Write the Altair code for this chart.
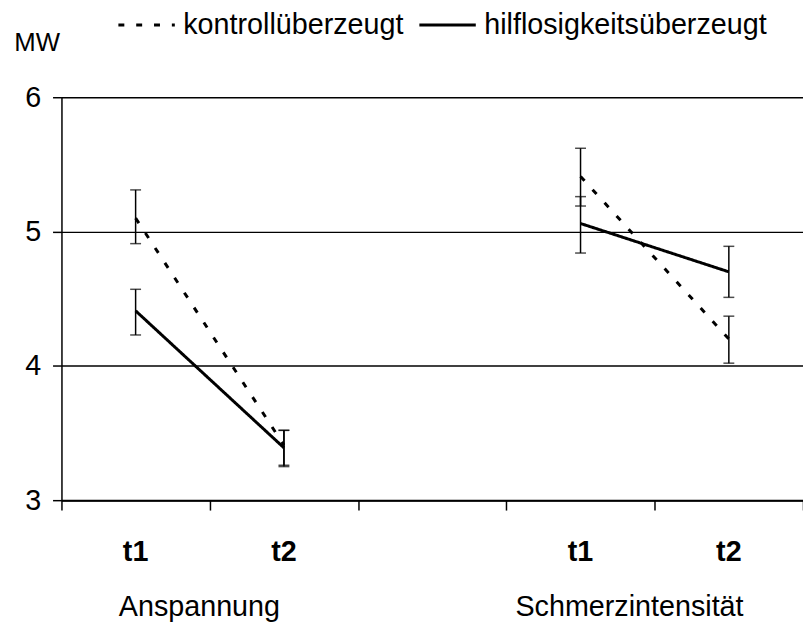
import altair as alt
import pandas as pd

# ---- data ----
groups = ["kontrollüberzeugt", "hilflosigkeitsüberzeugt"]
measures = ["Anspannung", "Anspannung", "Schmerzintensität", "Schmerzintensität"]
times = ["t1", "t2", "t1", "t2"]
slots = [0.5, 1.5, 3.5, 4.5]          # category slot centres on the x scale

kontroll_mean = [5.10, 3.41, 5.41, 4.20]
kontroll_lo = [4.91, 3.26, 5.19, 4.02]
kontroll_hi = [5.31, 3.52, 5.62, 4.37]

hilflos_mean = [4.41, 3.39, 5.06, 4.70]
hilflos_lo = [4.23, 3.25, 4.84, 4.51]
hilflos_hi = [4.57, 3.52, 5.26, 4.89]

group_labels = ["Anspannung", "Schmerzintensität"]
group_label_slots = [0.93, 3.83]

y_ticks = [3, 4, 5, 6]
x_ticks = [0, 1, 2, 3, 4, 5]

# ---- tables ----
rows = []
for g, means, los, his in [
    (groups[0], kontroll_mean, kontroll_lo, kontroll_hi),
    (groups[1], hilflos_mean, hilflos_lo, hilflos_hi),
]:
    for i in range(4):
        rows.append({"group": g, "measure": measures[i], "time": times[i],
                     "slot": slots[i], "mean": means[i], "lo": los[i], "hi": his[i]})
df = pd.DataFrame(rows)
df_t = pd.DataFrame({"slot": slots, "time": times})
df_g = pd.DataFrame({"slot": group_label_slots, "label": group_labels})

FONT = "Liberation Sans"
W, H = 749, 407

xscale = alt.Scale(domain=[0, 5], nice=False, zero=False)
yscale = alt.Scale(domain=[3, 6], nice=False, zero=False)

x_axis = alt.Axis(
    values=x_ticks, labels=False, title=None, grid=False,
    tickSize=10, tickColor="black", tickWidth=1.5,
    domainColor="black", domainWidth=2)
y_axis = alt.Axis(
    values=y_ticks, grid=True, gridColor="black", gridWidth=1.5, gridOpacity=1,
    tickSize=9, tickColor="black", tickWidth=1.5,
    domainColor="black", domainWidth=1.5,
    labelFontSize=29, labelColor="black", labelPadding=12, labelFont=FONT,
    title="MW", titleAngle=0, titleX=-25, titleY=-55, titleAlign="center",
    titleBaseline="middle", titleFontSize=26, titleFontWeight="normal",
    titleColor="black", titleFont=FONT)


def X():
    return alt.X("slot:Q", scale=xscale, axis=x_axis, title=None)


def Y(field):
    return alt.Y(field, scale=yscale, axis=y_axis, title="MW")


lines = alt.Chart(df).mark_line(color="black", strokeWidth=3).encode(
    x=X(), y=Y("mean:Q"),
    strokeDash=alt.StrokeDash("group:N", scale=alt.Scale(domain=groups, range=[[6, 12], [1, 0]]),
                              legend=alt.Legend(
                                  title=None, orient="none", legendX=56, legendY=-103,
                                  direction="horizontal", symbolType="stroke", symbolSize=3249,
                                  symbolStrokeWidth=3, symbolStrokeColor="black",
                                  labelFontSize=29, labelFont=FONT, labelColor="black",
                                  labelOffset=7, columnPadding=9, padding=0, labelLimit=500)),
    detail="measure:N",
)

bars = alt.Chart(df).mark_rule(color="black", strokeWidth=1.5).encode(
    x=X(), y=Y("lo:Q"), y2="hi:Q")
caps_lo = alt.Chart(df).mark_tick(color="black", orient="horizontal", size=11, thickness=1.5).encode(
    x=X(), y=Y("lo:Q"))
caps_hi = alt.Chart(df).mark_tick(color="black", orient="horizontal", size=11, thickness=1.5).encode(
    x=X(), y=Y("hi:Q"))

tlabels = alt.Chart(df_t).mark_text(fontSize=29, fontWeight="bold", baseline="alphabetic",
                                    align="center", color="black", font=FONT).encode(
    x=X(), y=alt.value(468), text="time:N")
glabels = alt.Chart(df_g).mark_text(fontSize=29, baseline="alphabetic", align="center",
                                    color="black", font=FONT).encode(
    x=X(), y=alt.value(524), text="label:N")

chart = alt.layer(lines, bars, caps_lo, caps_hi, tlabels, glabels).properties(
    width=W, height=H,
    autosize=alt.AutoSizeParams(type="none"),
    padding={"left": 54, "top": 87, "right": 0, "bottom": 128},
    background="white",
).configure(font=FONT).configure_view(stroke=None)

chart.save("out.html", embed_options={"renderer": "svg", "actions": False})
